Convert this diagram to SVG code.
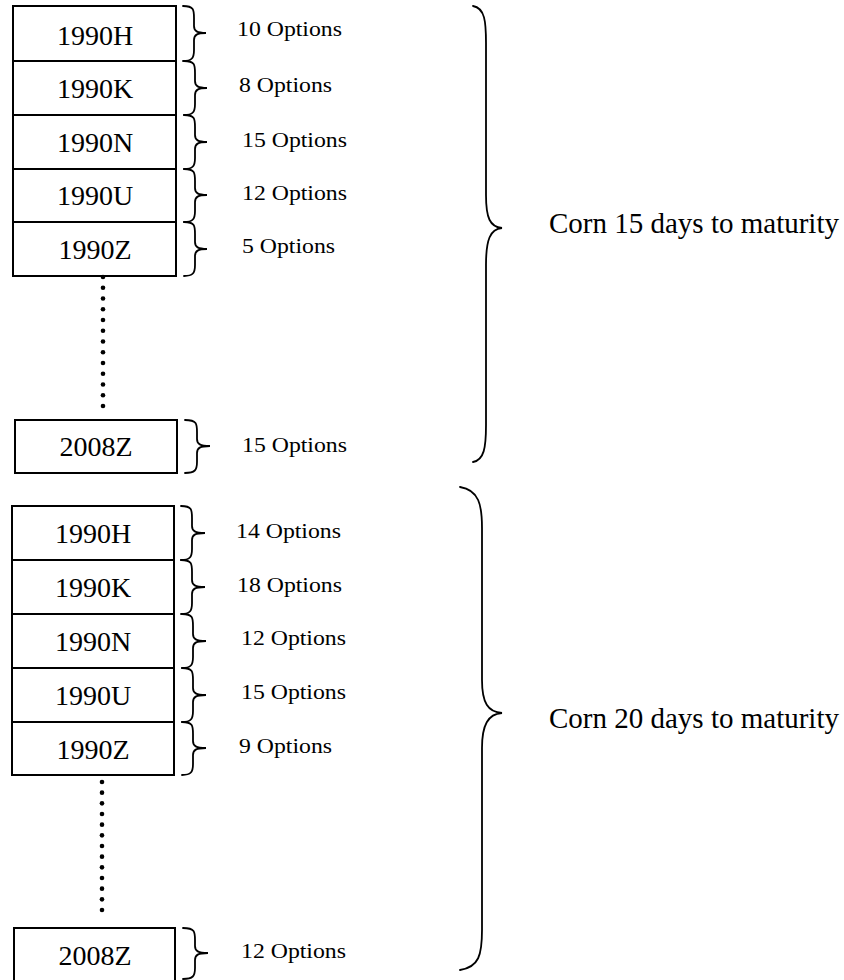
<svg xmlns="http://www.w3.org/2000/svg" width="844" height="980" viewBox="0 0 844 980">
<style>
.box{fill:#fff;stroke:#000;stroke-width:2}
.br{fill:none;stroke:#000;stroke-width:1.8;stroke-linecap:round}
.lb{font-family:"Liberation Serif","Times New Roman",serif;font-size:28px;fill:#000;text-anchor:middle}
.op{font-family:"Liberation Serif","Times New Roman",serif;font-size:22px;fill:#000}
.cn{font-family:"Liberation Serif","Times New Roman",serif;font-size:29px;fill:#000}
.dot{fill:#000}
</style>
<rect width="844" height="980" fill="#fff"/>

<g id="g1-1990H"><rect class="box" x="13" y="6" width="163" height="55"/><text class="lb" x="95" y="45">1990H</text></g>
<g id="g1-1990K"><rect class="box" x="13" y="61" width="163" height="54"/><text class="lb" x="95" y="98">1990K</text></g>
<g id="g1-1990N"><rect class="box" x="13" y="115" width="163" height="54"/><text class="lb" x="95" y="152">1990N</text></g>
<g id="g1-1990U"><rect class="box" x="13" y="169" width="163" height="53"/><text class="lb" x="95" y="205">1990U</text></g>
<g id="g1-1990Z"><rect class="box" x="13" y="222" width="163" height="54"/><text class="lb" x="95" y="259">1990Z</text></g>
<g id="g1-2008Z"><rect class="box" x="15" y="420" width="162" height="53"/><text class="lb" x="96" y="456">2008Z</text></g>

<g id="g2-1990H"><rect class="box" x="12" y="506" width="162" height="54"/><text class="lb" x="93" y="543">1990H</text></g>
<g id="g2-1990K"><rect class="box" x="12" y="560" width="162" height="54"/><text class="lb" x="93" y="597">1990K</text></g>
<g id="g2-1990N"><rect class="box" x="12" y="614" width="162" height="54"/><text class="lb" x="93" y="651">1990N</text></g>
<g id="g2-1990U"><rect class="box" x="12" y="668" width="162" height="54"/><text class="lb" x="93" y="705">1990U</text></g>
<g id="g2-1990Z"><rect class="box" x="12" y="722" width="162" height="53"/><text class="lb" x="93" y="759">1990Z</text></g>
<g id="g2-2008Z"><rect class="box" x="14" y="928" width="161" height="56"/><text class="lb" x="95" y="965">2008Z</text></g>

<g id="connectors">
  <g id="dots1">
    <circle class="dot" cx="103" cy="277" r="2.3"/><circle class="dot" cx="103" cy="287.75" r="2.3"/><circle class="dot" cx="103" cy="298.5" r="2.3"/><circle class="dot" cx="103" cy="309.25" r="2.3"/><circle class="dot" cx="103" cy="320" r="2.3"/><circle class="dot" cx="103" cy="330.75" r="2.3"/><circle class="dot" cx="103" cy="341.5" r="2.3"/><circle class="dot" cx="103" cy="352.25" r="2.3"/><circle class="dot" cx="103" cy="363" r="2.3"/><circle class="dot" cx="103" cy="373.75" r="2.3"/><circle class="dot" cx="103" cy="384.5" r="2.3"/><circle class="dot" cx="103" cy="395.25" r="2.3"/><circle class="dot" cx="103" cy="406" r="2.3"/>
  </g>
  <g id="dots2">
    <circle class="dot" cx="102" cy="782" r="2.3"/><circle class="dot" cx="102" cy="792.67" r="2.3"/><circle class="dot" cx="102" cy="803.33" r="2.3"/><circle class="dot" cx="102" cy="814" r="2.3"/><circle class="dot" cx="102" cy="824.67" r="2.3"/><circle class="dot" cx="102" cy="835.33" r="2.3"/><circle class="dot" cx="102" cy="846" r="2.3"/><circle class="dot" cx="102" cy="856.67" r="2.3"/><circle class="dot" cx="102" cy="867.33" r="2.3"/><circle class="dot" cx="102" cy="878" r="2.3"/><circle class="dot" cx="102" cy="888.67" r="2.3"/><circle class="dot" cx="102" cy="899.33" r="2.3"/><circle class="dot" cx="102" cy="910" r="2.3"/>
  </g>
  <!-- small braces group 1 -->
  <path class="br" d="M183,6 C194,6 194,10 194,18 L194,26 C194,31 197,33 206,33 C197,33 194,35 194,40 L194,50 C194,58 192,61 183,61"/>
  <path class="br" d="M184,61 C195,61 195,65 195,73 L195,81 C195,86 198,88 207,88 C198,88 195,90 195,95 L195,104 C195,112 193,115 184,115"/>
  <path class="br" d="M184,115 C195,115 195,119 195,127 L195,135 C195,140 198,142 207,142 C198,142 195,144 195,149 L195,158 C195,166 193,169 184,169"/>
  <path class="br" d="M184,169 C195,169 195,173 195,181 L195,188 C195,193 198,195 207,195 C198,195 195,197 195,202 L195,211 C195,219 193,222 184,222"/>
  <path class="br" d="M184,222 C195,222 195,226 195,234 L195,242 C195,247 198,249 207,249 C198,249 195,251 195,256 L195,265 C195,273 193,276 184,276"/>
  <path class="br" d="M185,420 C197,420 197,424 197,432 L197,439 C197,444 200,446 210,446 C200,446 197,448 197,453 L197,462 C197,470 195,473 185,473"/>
  <!-- small braces group 2 -->
  <path class="br" d="M181,506 C192,506 192,510 192,518 L192,526 C192,531 195,533 205,533 C195,533 192,535 192,540 L192,549 C192,557 190,560 181,560"/>
  <path class="br" d="M181,560 C192,560 192,564 192,572 L192,580 C192,585 195,587 205,587 C195,587 192,589 192,594 L192,603 C192,611 190,614 181,614"/>
  <path class="br" d="M182,614 C193,614 193,618 193,626 L193,634 C193,639 196,641 206,641 C196,641 193,643 193,648 L193,657 C193,665 191,668 182,668"/>
  <path class="br" d="M182,668 C193,668 193,672 193,680 L193,688 C193,693 196,695 206,695 C196,695 193,697 193,702 L193,711 C193,719 191,722 182,722"/>
  <path class="br" d="M182,722 C193,722 193,726 193,734 L193,741 C193,746 196,748 206,748 C196,748 193,750 193,755 L193,764 C193,772 191,775 182,775"/>
  <path class="br" d="M183,928 C195,928 195,932 195,940 L195,946 C195,951 198,953 208,953 C198,953 195,955 195,960 L195,968 C195,976 193,979 183,979"/>
  <!-- big braces -->
  <path class="br" d="M473,6 C485,8 486,22 486,43 L486,195 C486,218 490,227 502,228 C490,229 486,240 486,265 L486,425 C486,448 484,460 473,462"/>
  <path class="br" d="M460,487 C479,490 482,505 482,528 L482,680 C482,703 488,712 502,713 C488,714 482,725 482,748 L482,930 C482,955 479,967 460,970"/>
</g>

<g id="labels">
  <text class="op" x="237" y="36" textLength="105" lengthAdjust="spacingAndGlyphs">10 Options</text>
  <text class="op" x="239" y="92" textLength="93" lengthAdjust="spacingAndGlyphs">8 Options</text>
  <text class="op" x="242" y="147" textLength="105" lengthAdjust="spacingAndGlyphs">15 Options</text>
  <text class="op" x="242" y="200" textLength="105" lengthAdjust="spacingAndGlyphs">12 Options</text>
  <text class="op" x="242" y="253" textLength="93" lengthAdjust="spacingAndGlyphs">5 Options</text>
  <text class="op" x="242" y="452" textLength="105" lengthAdjust="spacingAndGlyphs">15 Options</text>
  <text class="op" x="236" y="538" textLength="105" lengthAdjust="spacingAndGlyphs">14 Options</text>
  <text class="op" x="237" y="592" textLength="105" lengthAdjust="spacingAndGlyphs">18 Options</text>
  <text class="op" x="241" y="645" textLength="105" lengthAdjust="spacingAndGlyphs">12 Options</text>
  <text class="op" x="241" y="699" textLength="105" lengthAdjust="spacingAndGlyphs">15 Options</text>
  <text class="op" x="239" y="753" textLength="93" lengthAdjust="spacingAndGlyphs">9 Options</text>
  <text class="op" x="241" y="958" textLength="105" lengthAdjust="spacingAndGlyphs">12 Options</text>
  <text class="cn" x="549" y="233">Corn 15 days to maturity</text>
  <text class="cn" x="549" y="728">Corn 20 days to maturity</text>
</g>
</svg>
